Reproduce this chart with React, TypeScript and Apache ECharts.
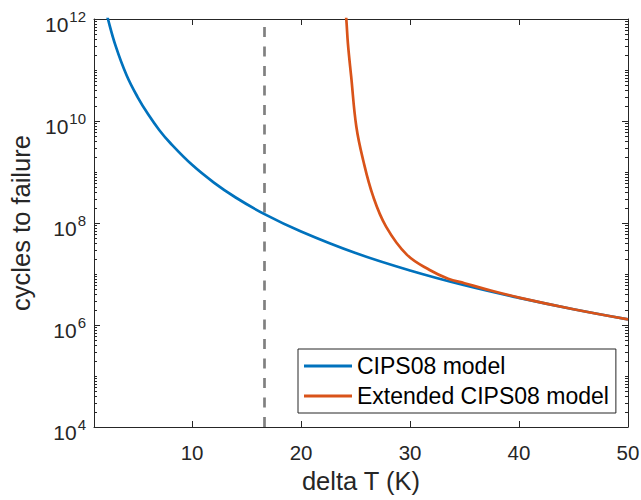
import React, { useEffect, useRef } from 'react';
import * as echarts from 'echarts';

// ---- data ----
const xTickValues = [10, 20, 30, 40, 50];
const yLabelValues = [1e4, 1e6, 1e8, 1e10, 1e12];
const seriesNames = ['CIPS08 model', 'Extended CIPS08 model'];
const thresholdDT = 16.6;

const cipsDT = [2.0, 2.28, 3, 4, 5, 6, 7, 8, 10, 12, 14, 16.6, 20, 25, 30, 35, 40, 45, 50];
const cipsN = [1.8e12, 1.0e12, 2.9e11, 7.8e10, 2.95e10, 1.32e10, 6.6e9, 3.7e9, 1.38e9, 6.2e8, 3.16e8, 1.51e8, 6.8e7, 2.57e7, 1.17e7, 6.0e6, 3.4e6, 2.04e6, 1.29e6];

const extDT = [24.05, 24.15, 24.3, 24.6, 25.07, 25.7, 26.6, 27.8, 29.7, 31.8, 33.5, 35, 37, 40, 45, 50];
const extN = [1.6e12, 1.0e12, 3.3e11, 7.4e10, 7.8e9, 1.7e9, 3.4e8, 8.5e7, 2.4e7, 1.2e7, 8.1e6, 6.6e6, 5.0e6, 3.45e6, 2.04e6, 1.29e6];

const X_MIN = 1;
const X_MAX = 50;
const Y_MIN = 1e4;
const Y_MAX = 1e12;

const FONT = 'Liberation Sans, Arial, Helvetica, sans-serif';
const AX = '#262626';

// log-axis tick values: majors at labelled decades, minors at 2..9 x 10^k and odd decades
const yTickVals: number[] = [];
const yTickLens: number[] = [];
for (let k = 4; k <= 12; k++) {
  const d = Math.pow(10, k);
  yTickVals.push(d);
  yTickLens.push(k % 2 === 0 ? 6 : 3);
  if (k < 12) for (let m = 2; m <= 9; m++) { yTickVals.push(m * d); yTickLens.push(3); }
}

export default function App() {
  const ref = useRef<HTMLDivElement>(null);
  useEffect(() => {
    if (!ref.current) return;
    const chart = echarts.init(ref.current, undefined, { renderer: 'svg' });
    chart.setOption({
      animation: false,
      backgroundColor: '#ffffff',
      textStyle: { fontFamily: FONT },
      grid: { left: 94, top: 19, width: 534, height: 408, containLabel: false, outerBoundsMode: 'none' },
      legend: {
        data: seriesNames,
        orient: 'vertical',
        left: 298,
        top: 349,
        padding: [5, 7, 5, 6],
        itemGap: 6,
        itemWidth: 48,
        itemHeight: 3,
        icon: 'rect',
        borderColor: AX,
        borderWidth: 1,
        backgroundColor: '#ffffff',
        textStyle: { fontSize: 23, lineHeight: 24, color: '#000', fontFamily: FONT },
      },
      xAxis: [
        {
          type: 'value', min: X_MIN, max: X_MAX, position: 'bottom',
          name: 'delta T (K)', nameLocation: 'middle', nameGap: 41,
          nameTextStyle: { fontSize: 25.5, color: AX, fontFamily: FONT },
          axisLine: { show: true, lineStyle: { color: AX, width: 1 } },
          axisTick: { show: false },
          axisLabel: { show: true, customValues: xTickValues, fontSize: 20.5, color: AX, margin: 15, fontFamily: FONT },
          splitLine: { show: false },
        },
        {
          type: 'value', min: X_MIN, max: X_MAX, position: 'top',
          axisLine: { show: true, lineStyle: { color: AX, width: 1 } },
          axisTick: { show: false }, axisLabel: { show: false }, splitLine: { show: false },
        },
      ],
      yAxis: [
        {
          type: 'log', logBase: 10, min: Y_MIN, max: Y_MAX, position: 'left',
          name: 'cycles to failure', nameLocation: 'middle', nameGap: 59,
          nameTextStyle: { fontSize: 25.5, color: AX, fontFamily: FONT },
          axisLine: { show: true, lineStyle: { color: AX, width: 1 } },
          axisTick: { show: false },
          splitLine: { show: false },
          axisLabel: {
            show: true, customValues: yLabelValues, margin: 8,
            formatter: (v: number) => `{b|10}{s|${Math.round(Math.log10(v))}}`,
            rich: {
              b: { fontSize: 21, lineHeight: 21, color: AX, fontFamily: FONT, padding: [10, 0, 0, 0] },
              s: { fontSize: 15, lineHeight: 15, color: AX, fontFamily: FONT, padding: [0, 0, 5, 1] },
            },
          },
        },
        {
          type: 'log', logBase: 10, min: Y_MIN, max: Y_MAX, position: 'right',
          axisLine: { show: true, lineStyle: { color: AX, width: 1 } },
          axisTick: { show: false }, axisLabel: { show: false }, splitLine: { show: false },
        },
      ],
      series: [
        {
          name: seriesNames[0], type: 'line', xAxisIndex: 0, yAxisIndex: 0,
          data: cipsDT.map((x, i) => [x, cipsN[i]]),
          symbol: 'none', smooth: 0.4, clip: true,
          lineStyle: { color: '#0072BD', width: 2.7 }, itemStyle: { color: '#0072BD' }, z: 3,
          markLine: {
            silent: true, symbol: ['none', 'none'], label: { show: false },
            lineStyle: { color: '#808080', width: 2.7, type: [10, 9.5] },
            data: [{ xAxis: thresholdDT }], z: 2,
          },
        },
        {
          name: seriesNames[1], type: 'line', xAxisIndex: 0, yAxisIndex: 0,
          data: extDT.map((x, i) => [x, extN[i]]),
          symbol: 'none', smooth: 0.4, clip: true,
          lineStyle: { color: '#D95319', width: 2.7 }, itemStyle: { color: '#D95319' }, z: 4,
        },
      ],
    });

    // box-style tick marks, placed through the chart's own axis scales
    const finder = { xAxisIndex: 0, yAxisIndex: 0 };
    const toPx = (x: number, y: number) => chart.convertToPixel(finder as any, [x, y]) as number[];
    const elements: any[] = [];
    xTickValues.forEach((v) => {
      const b = toPx(v, Y_MIN);
      const t = toPx(v, Y_MAX);
      const bx = Math.round(b[0]);
      elements.push({ type: 'rect', silent: true, z: 50, shape: { x: bx, y: b[1] - 6, width: 1, height: 6 }, style: { fill: AX } });
      elements.push({ type: 'rect', silent: true, z: 50, shape: { x: bx, y: t[1], width: 1, height: 6 }, style: { fill: AX } });
    });
    yTickVals.forEach((v, i) => {
      const l = toPx(X_MIN, v);
      const r = toPx(X_MAX, v);
      const yy = Math.round(l[1]);
      const len = yTickLens[i];
      elements.push({ type: 'rect', silent: true, z: 50, shape: { x: l[0], y: yy, width: len, height: 1 }, style: { fill: AX } });
      elements.push({ type: 'rect', silent: true, z: 50, shape: { x: r[0] - len, y: yy, width: len, height: 1 }, style: { fill: AX } });
    });
    chart.setOption({ graphic: { elements } });

    return () => chart.dispose();
  }, []);
  return <div ref={ref} style={{ position: 'fixed', left: 0, top: 0, width: 641, height: 500 }} />;
}
